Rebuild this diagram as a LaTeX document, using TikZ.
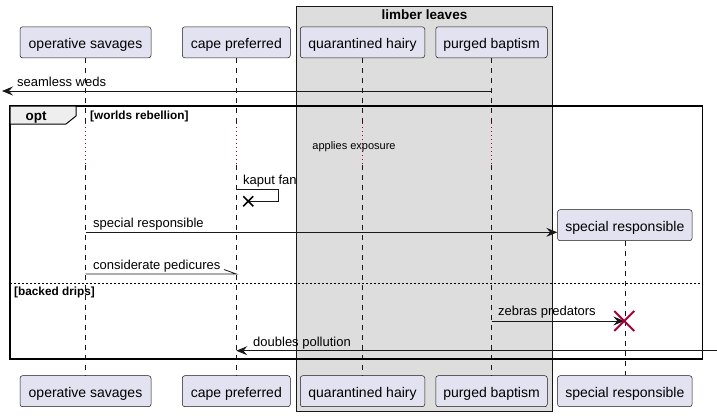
\documentclass[tikz,border=0pt]{standalone}
\usepackage{fontspec}
\setmainfont{Liberation Sans}
\usetikzlibrary{arrows.meta,calc}
\definecolor{pfill}{HTML}{E2E2F0}
\definecolor{pline}{HTML}{181818}
\definecolor{gfill}{HTML}{DDDDDD}
\definecolor{tabfill}{HTML}{EEEEEE}
\definecolor{xred}{HTML}{A80036}
\begin{document}
\begin{tikzpicture}[x=1pt,y=-1pt,
  part/.style={draw=pline,fill=pfill,rounded corners=2.5pt,line width=0.5pt,
    minimum height=31pt,inner xsep=0pt,inner ysep=0pt,text height=13pt,text depth=1pt,
    font=\fontsize{14}{16}\selectfont},
  life/.style={draw=pline,line width=0.5pt,dash pattern=on 5pt off 5pt},
  delayline/.style={draw=xred,line width=1pt,dash pattern=on 1pt off 3pt},
  msg/.style={draw=pline,line width=0.8pt},
  tipped/.style={-{Stealth[length=11pt,width=9pt,inset=4pt]}},
  mlabel/.style={font=\fontsize{13}{15}\selectfont,anchor=base west,inner sep=0pt},
  grptitle/.style={font=\bfseries\fontsize{13.5}{15}\selectfont,anchor=base,inner sep=0pt},
  condlabel/.style={font=\bfseries\fontsize{11.8}{13}\selectfont,anchor=base west,inner sep=0pt},
  notelabel/.style={font=\fontsize{11}{13}\selectfont,anchor=base,inner sep=0pt},
  xmark/.style={line width=1.6pt}
]
\useasboundingbox (0,0) rectangle (717,416);
% box group
\draw[fill=gfill,draw=pline,line width=0.5pt] (296,6) rectangle (552,411);
\node[grptitle] (boxtitle) at (424.5,19) {limber leaves};

% participants top
\node[part,minimum width=131pt] (op) at (85.5,42.3) {operative savages};
\node[part,minimum width=108pt] (cp) at (236.3,42.3) {cape preferred};
\node[part,minimum width=124.5pt] (qh) at (362.5,42.3) {quarantined hairy};
\node[part,minimum width=111.5pt] (pb) at (491.5,42.3) {purged baptism};
% participants bottom
\node[part,minimum width=131pt] (opb) at (85.5,391.2) {operative savages};
\node[part,minimum width=108pt] (cpb) at (236.3,391.2) {cape preferred};
\node[part,minimum width=124.5pt] (qhb) at (362.5,391.2) {quarantined hairy};
\node[part,minimum width=111.5pt] (pbb) at (491.5,391.2) {purged baptism};
\node[part,minimum width=134.5pt] (srb) at (624.8,391.2) {special responsible};

% lifelines
\foreach \p/\q in {op/opb,cp/cpb,qh/qhb,pb/pbb}{
  \draw[life] (\p.south) -- (\p |- 0,123);
  \draw[delayline] (\p |- 0,123) -- (\p |- 0,165);
  \draw[life] (\p |- 0,165) -- (\q.north);
}
\coordinate (srtop) at (624.8,241);
\draw[life] (srtop) -- (srb.north);

% opt frame
\draw[line width=1.5pt] (10,106) rectangle (702.5,359);
\draw[fill=tabfill,line width=1pt] (10,106) -- (76,106) -- (76,116) -- (66,124) -- (10,124) -- cycle;
\node[grptitle] (optlbl) at (36,120.5) {opt};
\node[condlabel] (cond1) at (90,119.5) {[worlds rebellion]};
\draw[line width=0.8pt,dash pattern=on 2pt off 2pt] (10,283.3) -- (702.5,283.3);
\node[condlabel] (cond2) at (14,295) {[backed drips]};

% delay text
\node[notelabel] (delaytxt) at (354,149.5) {applies exposure};

% messages
\coordinate (leftedge) at (2,91);
\draw[msg,tipped] (pb |- 0,91) -- (leftedge);
\node[mlabel] (m1) at (17,86) {seamless weds};

\coordinate (kfx) at (248.3,201.3);
\draw[msg] (cp |- 0,189) -- (278.3,189) -- (278.3,201.3) -- (kfx);
\draw[xmark] ($(kfx)+(-5,-5)$) -- ($(kfx)+(5,5)$) ($(kfx)+(-5,5)$) -- ($(kfx)+(5,-5)$);
\node[mlabel] (m2) at (243,184.3) {kaput fan};

\node[part,minimum width=134.5pt] (sr) at (624.8,225.2) {special responsible};
\draw[msg,tipped] (op |- 0,232.3) -- (sr.west |- 0,232.3);
\node[mlabel] (m3) at (93,227) {special responsible};

\draw[msg] (op |- 0,274) -- (cp |- 0,274) -- (224,269.5);
\node[mlabel] (m4) at (93,269.5) {considerate pedicures};

\coordinate (srx) at (624.3,321);
\draw[msg,tipped] (pb |- 0,321) -- (srx);
\draw[xmark,draw=xred,line width=2pt] ($(srx)+(-10,-10)$) -- ($(srx)+(10,10)$) ($(srx)+(-10,10)$) -- ($(srx)+(10,-10)$);
\node[mlabel] (m5) at (498,315.7) {zebras predators};

\coordinate (rightedge) at (717,350.7);
\draw[msg,tipped] (rightedge) -- (cp |- 0,350.7);
\node[mlabel] (m6) at (253,346.5) {doubles pollution};
\end{tikzpicture}
\end{document}
